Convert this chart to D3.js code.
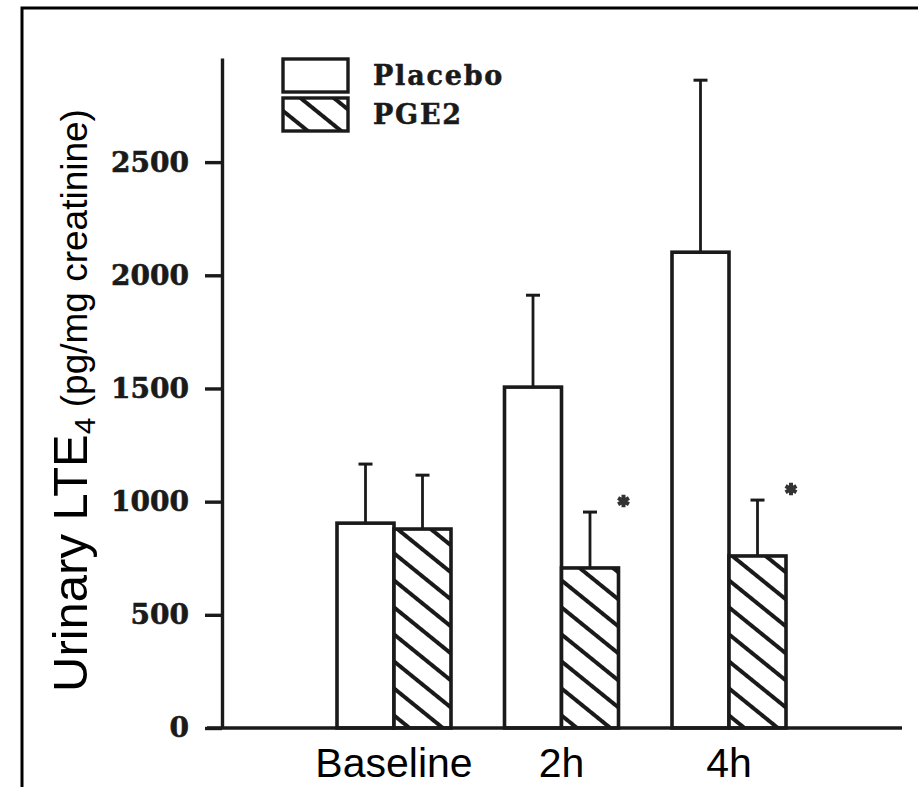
<!DOCTYPE html>
<html>
<head>
<meta charset="utf-8">
<script src="https://cdn.jsdelivr.net/npm/d3@7"></script>
<style>
  body { margin: 0; background: #fff; }
  svg { display: block; }
</style>
</head>
<body>
<div id="chart"></div>
<script>
// values
const categories = ["Baseline", "2h", "4h"];
const seriesNames = ["Placebo", "PGE2"];
const placeboMean = [905, 1506, 2102];
const placeboSem = [261, 406, 760];
const pge2Mean = [879, 707, 760];
const pge2Sem = [238, 247, 247];
const pge2Significant = [false, true, true];
const yTicks = [0, 500, 1000, 1500, 2000, 2500];

class LTE4BarChart {

  constructor(element) {
    this.element = element;
    this.width = 918;
    this.height = 787;
    this.ink = "#1a1a1a";
    this.numFont = "'DejaVu Serif', serif";
    this.sansFont = "'Liberation Sans', Arial, sans-serif";

    this.rows = categories.map((c, i) => ({
      category: c,
      values: [
        {series: "Placebo", mean: placeboMean[i], sem: placeboSem[i], sig: false},
        {series: "PGE2", mean: pge2Mean[i], sem: pge2Sem[i], sig: pge2Significant[i]}
      ]
    }));

    this.draw();
  }

  draw() {
    this.svg = d3.select(this.element)
      .append("svg")
      .attr("width", this.width)
      .attr("height", this.height);

    this._defs();
    this._frame();
    this._createScales();
    this._drawBars();
    this._drawAxes();
    this._drawLegend();
  }

  _defs() {
    const p = this.svg.append("defs")
      .append("pattern")
      .attr("id", "hatch")
      .attr("patternUnits", "userSpaceOnUse")
      .attr("width", 40)
      .attr("height", 21)
      .attr("patternTransform", "rotate(39)");
    p.append("rect").attr("width", 40).attr("height", 21).attr("fill", "#fff");
    p.append("line")
      .attr("x1", 0).attr("x2", 40)
      .attr("y1", 10).attr("y2", 10)
      .attr("stroke", this.ink)
      .attr("stroke-width", 3.8);
  }

  _frame() {
    // scan border, top and left only
    this.svg.append("path")
      .attr("d", `M22,${this.height} V8 H${this.width}`)
      .attr("fill", "none")
      .attr("stroke", "#000")
      .attr("stroke-width", 3);
  }

  _createScales() {
    this.y = d3.scaleLinear()
      .domain([0, 2960])
      .range([728, 58]);

    this.x = d3.scalePoint()
      .domain(categories)
      .range([394, 729]);

    this.xs = d3.scaleBand()
      .domain(seriesNames)
      .range([-57, 57])
      .padding(0);
  }

  _drawBars() {
    const g = this.svg.append("g");

    const groups = g.selectAll("g")
      .data(this.rows)
      .join("g")
        .attr("transform", d => `translate(${this.x(d.category)},0)`);

    const bars = groups.selectAll("g")
      .data(d => d.values)
      .join("g");

    const mid = d => this.xs(d.series) + this.xs.bandwidth() / 2;

    bars.append("line")
      .attr("x1", mid)
      .attr("x2", mid)
      .attr("y1", d => this.y(d.mean))
      .attr("y2", d => this.y(d.mean + d.sem))
      .attr("stroke", this.ink)
      .attr("stroke-width", 2.8);

    bars.append("line")
      .attr("x1", d => mid(d) - 7)
      .attr("x2", d => mid(d) + 7)
      .attr("y1", d => this.y(d.mean + d.sem))
      .attr("y2", d => this.y(d.mean + d.sem))
      .attr("stroke", this.ink)
      .attr("stroke-width", 3);

    bars.append("rect")
      .attr("x", d => this.xs(d.series))
      .attr("y", d => this.y(d.mean))
      .attr("width", this.xs.bandwidth())
      .attr("height", d => this.y(0) - this.y(d.mean))
      .attr("fill", d => d.series === "PGE2" ? "url(#hatch)" : "#fff")
      .attr("stroke", this.ink)
      .attr("stroke-width", 3.6);

    bars.filter(d => d.sig)
      .append("path")
      .attr("d", d3.symbol(d3.symbolAsterisk, 110))
      .attr("transform", d =>
        `translate(${this.xs(d.series) + this.xs.bandwidth() + 5},${this.y(d.mean + d.sem) - 11})`)
      .attr("fill", "none")
      .attr("stroke", "#333")
      .attr("stroke-width", 4);
  }

  _drawAxes() {
    const yAxis = g => g
      .attr("transform", "translate(222,0)")
      .call(d3.axisLeft(this.y)
        .tickValues(yTicks)
        .tickFormat(d3.format("d"))
        .tickSize(17)
        .tickPadding(16)
        .tickSizeOuter(0))
      .call(g => g.select(".domain").attr("stroke", this.ink).attr("stroke-width", 3.4))
      .call(g => g.selectAll(".tick line").attr("stroke", this.ink).attr("stroke-width", 3.4))
      .call(g => g.selectAll(".tick text")
        .attr("fill", "#1a1a1a")
        .attr("font-family", this.numFont)
        .attr("font-weight", "bold")
        .attr("font-size", 28)
        .attr("stroke", "#1a1a1a")
        .attr("stroke-width", 0.6));

    const xAxis = g => g
      .attr("transform", `translate(0,${this.y(0)})`)
      .call(g => g.append("line")
        .attr("x1", 207).attr("x2", 902)
        .attr("stroke", this.ink)
        .attr("stroke-width", 3.4))
      .call(g => g.selectAll("text")
        .data(categories)
        .join("text")
          .attr("x", d => this.x(d))
          .attr("y", 49)
          .attr("text-anchor", "middle")
          .attr("font-family", this.sansFont)
          .attr("font-size", 41)
          .attr("fill", "#000")
          .text(d => d));

    this.svg.append("g").call(yAxis);
    this.svg.append("g").call(xAxis);

    const title = this.svg.append("text")
      .attr("transform", "translate(87,692) rotate(-90)")
      .attr("font-family", this.sansFont)
      .attr("fill", "#000");
    title.append("tspan").attr("font-size", 49).text("Urinary LTE");
    title.append("tspan").attr("font-size", 30).attr("dy", 8).text("4");
    title.append("tspan").attr("font-size", 37).attr("dy", -8).text("\u00a0(pg/mg creatinine)");
  }

  _drawLegend() {
    const g = this.svg.append("g").attr("transform", "translate(283,59)");
    const item = g.selectAll("g")
      .data(seriesNames)
      .join("g")
        .attr("transform", (d, i) => `translate(0,${i * 39})`);

    item.append("rect")
      .attr("width", 65)
      .attr("height", 33)
      .attr("fill", d => d === "PGE2" ? "url(#hatch)" : "#fff")
      .attr("stroke", this.ink)
      .attr("stroke-width", 3.4);

    item.append("text")
      .attr("x", 90)
      .attr("y", 26)
      .attr("font-family", this.numFont)
      .attr("font-weight", "bold")
      .attr("font-size", 27)
      .attr("letter-spacing", 1.8)
      .attr("fill", "#1a1a1a")
      .attr("stroke", "#1a1a1a")
      .attr("stroke-width", 0.5)
      .text(d => d);
  }

}

new LTE4BarChart(document.getElementById("chart"));
</script>
</body>
</html>
